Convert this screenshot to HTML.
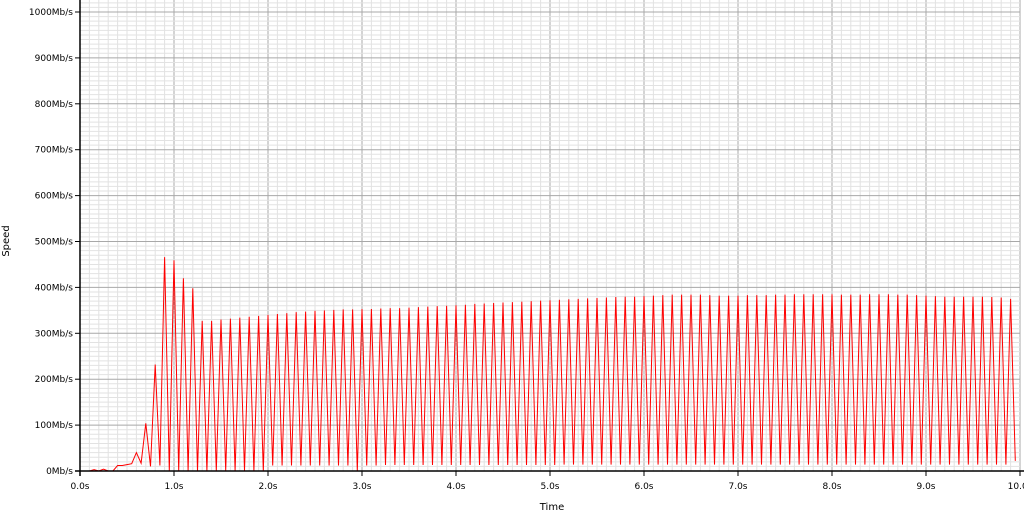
<!DOCTYPE html>
<html><head><meta charset="utf-8"><style>
html,body{margin:0;padding:0;background:#fff;overflow:hidden}
svg{display:block;font-family:"DejaVu Sans","Liberation Sans",sans-serif}
</style></head><body>
<svg id="chart" width="1024" height="512" viewBox="0 0 1024 512">
<g id="grid"></g>
<g id="series"></g>
<g id="axes"></g>
<text x="9" y="241" font-size="10" text-anchor="middle" transform="rotate(-90 9 241)">Speed</text>
<text x="552" y="510" font-size="10" text-anchor="middle">Time</text>
</svg>
<script>
const xTickLabels=["0.0s","1.0s","2.0s","3.0s","4.0s","5.0s","6.0s","7.0s","8.0s","9.0s","10.0s"];
const yTickLabels=["0Mb/s","100Mb/s","200Mb/s","300Mb/s","400Mb/s","500Mb/s","600Mb/s","700Mb/s","800Mb/s","900Mb/s","1000Mb/s"];
const sampleStep=0.05;
const earlyValues=[0,0,0,3,0,4,0,0,12,12,14,16,40,17,104,10,232,12];
const peakValues=[466,459,420,398,327,327,330,332,334,336,338,340,342,344,346,347,349,350,351,352,352,353,353,354,355,355,356,357,358,359,360,361,362,364,365,366,367,368,369,370,371,372,373,374,375,376,377,378,379,380,380,381,382,383,384,384,384,384,383,382,382,382,383,383,383,384,384,385,385,385,385,385,384,384,384,385,385,385,384,384,383,382,381,380,380,380,380,380,379,378,375];
const valleyValues=[0,0,0,0,0,0,0,0,0,0,0,12,12,12,12,12,12,12,12,12,0,12,12,13,13,13,13,13,13,13,13,13,13,13,13,13,13,13,13,13,13,13,14,14,14,14,14,14,14,14,14,14,14,14,14,14,14,14,14,14,14,14,14,14,14,14,14,14,14,14,14,14,14,14,14,14,14,14,14,14,14,14,14,14,14,14,14,14,14,14,22];
const NS="http://www.w3.org/2000/svg";
const X0=80,X1=1020,Y0=471,Y1=12;
const xs=t=>X0+(t/10)*(X1-X0);
const ys=v=>Y0-(v/1000)*(Y0-Y1);
function mk(tag,attrs,parent){const e=document.createElementNS(NS,tag);for(const k in attrs)e.setAttribute(k,attrs[k]);parent.appendChild(e);return e;}
const grid=document.getElementById('grid'),axes=document.getElementById('axes'),series=document.getElementById('series');
for(let i=0;i<=100;i++){const x=xs(i/10);const l=mk('line',{x1:x,x2:x,y1:0,y2:Y0,stroke:i%10==0?'#a8a8a8':'#e2e2e2','stroke-width':1},grid);

}
for(let i=0;i<=104;i++){const y=ys(i*10);if(y<0)continue;const l=mk('line',{x1:X0,x2:X1,y1:y,y2:y,stroke:i%10==0?'#a8a8a8':'#e2e2e2','stroke-width':1},grid);

}
const vals=earlyValues.slice();
for(let i=0;i<peakValues.length;i++){vals.push(peakValues[i]);vals.push(valleyValues[i]);}
const pts=vals.map((v,i)=>xs(i*sampleStep).toFixed(1)+','+ys(v).toFixed(1)).join(' ');
const pl=mk('polyline',{points:pts,fill:'none',stroke:'#ff0000','stroke-width':1,'stroke-linejoin':'miter'},series);


const ax=mk('line',{x1:X0,x2:X0,y1:0,y2:Y0+5,stroke:'#000','stroke-width':1.5},axes);


const bx=mk('line',{x1:X0-5,x2:1024,y1:Y0,y2:Y0,stroke:'#000','stroke-width':1.5},axes);


xTickLabels.forEach((s,i)=>{const x=xs(i);
const tk=mk('line',{x1:x,x2:x,y1:Y0,y2:Y0+5,stroke:'#000'},axes);


const t=mk('text',{x:x,y:Y0+18,'font-size':9,'text-anchor':'middle'},axes);t.textContent=s;

});
yTickLabels.forEach((s,i)=>{const y=ys(i*100);
const tk=mk('line',{x1:X0-5,x2:X0,y1:y,y2:y,stroke:'#000'},axes);


const t=mk('text',{x:X0-7,y:y+3,'font-size':9,'text-anchor':'end'},axes);t.textContent=s;

});
</script>
</body></html>
